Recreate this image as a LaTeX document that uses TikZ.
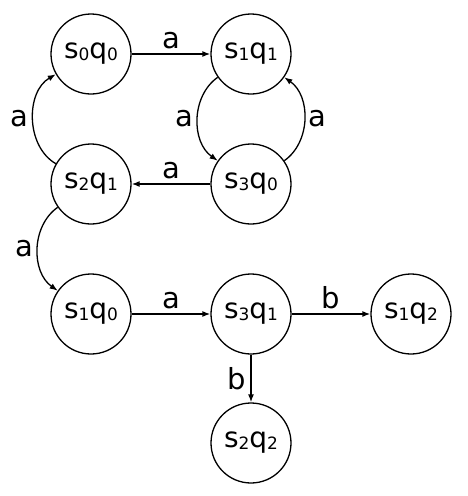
\documentclass[tikz,border=0pt]{standalone}
\usepackage{fontspec}
\setmainfont{DejaVu Sans}
\usetikzlibrary{arrows.meta}
\newcommand{\subd}[1]{\raisebox{-1.5pt}{\fontsize{17}{17}\selectfont #1}}
\newcommand{\stq}[2]{s\subd{#1}q\subd{#2}}
\tikzset{
  state/.style={circle,draw,line width=1.3pt,minimum size=80pt,inner sep=0pt,font=\fontsize{28}{28}\selectfont},
  edge/.style={line width=1.3pt,-{Latex[length=8pt,width=6pt]}},
  lbl/.style={font=\fontsize{29}{29}\selectfont,inner sep=4pt}
}
\begin{document}
\begin{tikzpicture}[x=1pt,y=-1pt]
\useasboundingbox (0,0) rectangle (468,496);
\node[state] (s0q0) at (91,54) {\stq{0}{0}};
\node[state] (s1q1) at (251,54) {\stq{1}{1}};
\node[state] (s2q1) at (91,184) {\stq{2}{1}};
\node[state] (s3q0) at (251,184) {\stq{3}{0}};
\node[state] (s1q0) at (91,314) {\stq{1}{0}};
\node[state] (s3q1) at (251,314) {\stq{3}{1}};
\node[state] (s1q2) at (411,314) {\stq{1}{2}};
\node[state] (s2q2) at (251,443) {\stq{2}{2}};
\draw[edge] (s0q0) -- node[lbl,above] {a} (s1q1);
\draw[edge] (s3q0) -- node[lbl,above] {a} (s2q1);
\draw[edge] (s1q0) -- node[lbl,above] {a} (s3q1);
\draw[edge] (s3q1) -- node[lbl,above] {b} (s1q2);
\draw[edge] (s3q1) -- node[lbl,left] {b} (s2q2);
\draw[edge] (s2q1) to[bend left=60] node[lbl,left] {a} (s0q0);
\draw[edge] (s1q1) to[bend right=55] node[lbl,left] {a} (s3q0);
\draw[edge] (s3q0) to[bend right=55] node[lbl,right] {a} (s1q1);
\draw[edge] (s2q1) to[bend right=55] node[lbl,left] {a} (s1q0);
\end{tikzpicture}
\end{document}
